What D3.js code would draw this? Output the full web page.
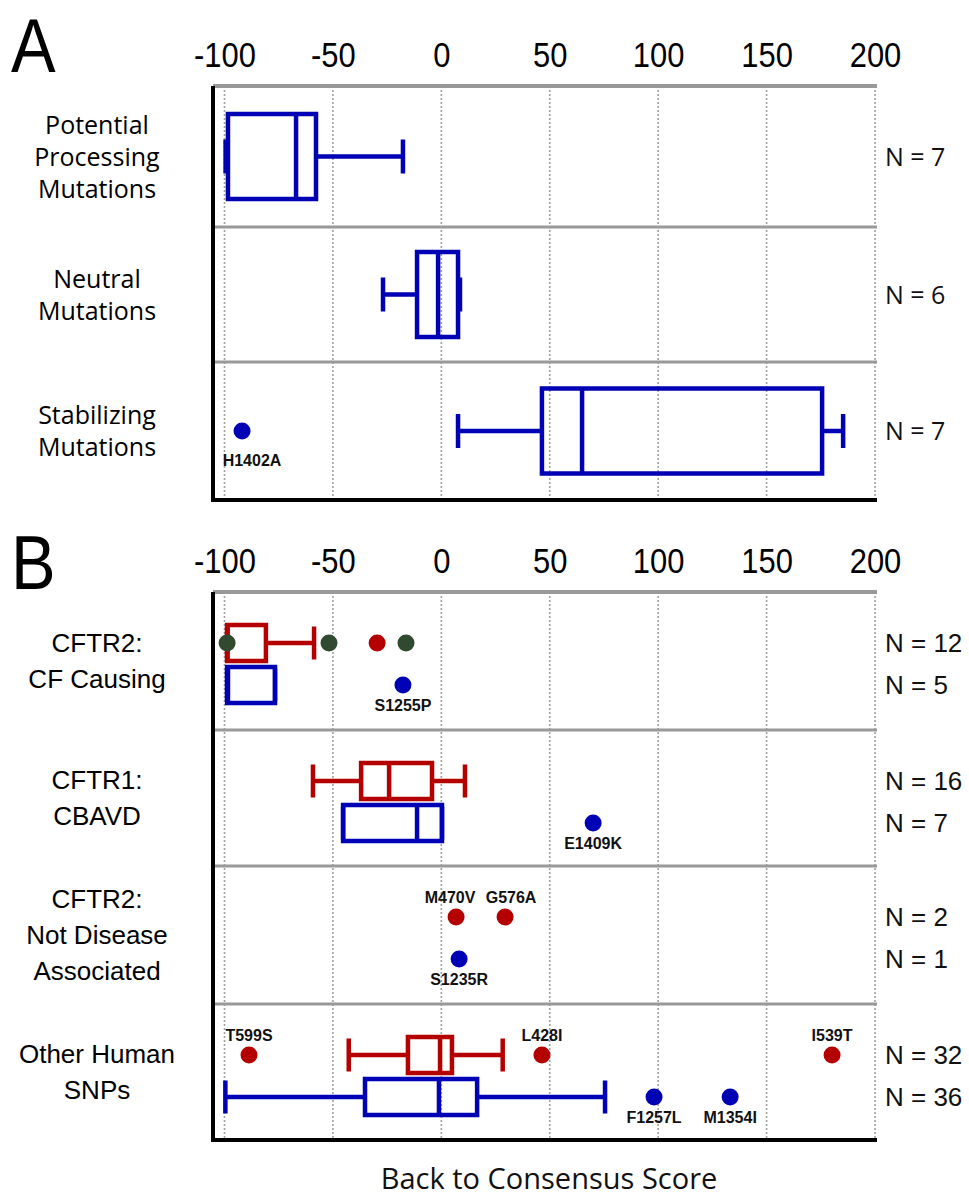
<!DOCTYPE html>
<html>
<head>
<meta charset="utf-8">
<script src="https://cdn.jsdelivr.net/npm/d3@7"></script>
<style>
  body { margin: 0; background: #fff; }
  svg { display: block; }
</style>
</head>
<body>
<div id="chart"></div>
<script>
// ---- data ----
const ticks = [-100, -50, 0, 50, 100, 150, 200];

// panel A
const rowsA = [["Potential", "Processing", "Mutations"], ["Neutral", "Mutations"], ["Stabilizing", "Mutations"]];
const countsA = [7, 6, 7];
const boxesA = [
    { min: -99.5, q1: -98.4, med: -67, q3: -57.8, max: -17.7 },
    { min: -26.9, q1: -11.2, med: -1.5, q3: 7.7, max: 8.6 },
    { min: 7.7, q1: 46.4, med: 64.9, q3: 175.6, max: 185.3 }
];
const pointsA = [{ row: 2, value: -91.9, label: "H1402A", side: "below" }];

// panel B
const rowsB = [["CFTR2:", "CF Causing"], ["CFTR1:", "CBAVD"], ["CFTR2:", "Not Disease", "Associated"], ["Other Human", "SNPs"]];
const countsRed = [12, 16, 2, 32];
const countsBlue = [5, 7, 1, 36];
const boxesRed = [
    { min: -98.8, q1: -98.8, med: -98.6, q3: -80.9, max: -58.7 },
    { min: -59.2, q1: -37.0, med: -24.1, q3: -4.3, max: 10.9 },
    null,
    { min: -42.7, q1: -15.4, med: -0.6, q3: 4.9, max: 28.3 }
];
const boxesBlue = [
    { min: -98.8, q1: -98.8, med: -98.4, q3: -76.7, max: -76.7 },
    { min: -45.3, q1: -45.3, med: -11.2, q3: 0.3, max: 0.3 },
    null,
    { min: -99.6, q1: -35.2, med: -1.1, q3: 16.5, max: 75.5 }
];
const pointsRed = [
    { row: 0, value: -29.6 },
    { row: 2, value: 6.8, label: "M470V", side: "above" },
    { row: 2, value: 29.4, label: "G576A", side: "above" },
    { row: 3, value: -88.7, label: "T599S", side: "above" },
    { row: 3, value: 46.4, label: "L428I", side: "above" },
    { row: 3, value: 180.2, label: "I539T", side: "above" }
];
const pointsGreen = [
    { row: 0, value: -98.8 },
    { row: 0, value: -51.8 },
    { row: 0, value: -16.3 }
];
const pointsBlue = [
    { row: 0, value: -17.7, label: "S1255P", side: "below" },
    { row: 1, value: 70.0, label: "E1409K", side: "below" },
    { row: 2, value: 8.2, label: "S1235R", side: "below" },
    { row: 3, value: 98.1, label: "F1257L", side: "below" },
    { row: 3, value: 133.2, label: "M1354I", side: "below" }
];

// ---- layout ----
const W = 969, H = 1202;
const BLUE = "#0000b4", RED = "#b40000", GREEN = "#2f4a2f";
const frameLeft = 213, frameRight = 877;
const boundsA = [86, 227, 362, 500];
const boundsB = [592, 730, 866, 1004, 1140];
const NARROW = "'Liberation Sans', Arial, sans-serif";

const x = d3.scaleLinear().domain([-100, 200]).range([224.5, 875]);

const svg = d3.select("#chart").append("svg")
    .attr("width", W)
    .attr("height", H);

function drawFrame(bounds, letter, letterY) {
    const g = svg.append("g");
    const top = bounds[0], bottom = bounds[bounds.length - 1];

    // dotted grid
    g.selectAll(".grid")
        .data(ticks)
        .join("line")
        .attr("x1", d => x(d)).attr("x2", d => x(d))
        .attr("y1", top).attr("y2", bottom)
        .attr("stroke", "#a0a0a0")
        .attr("stroke-width", 1.6)
        .attr("stroke-dasharray", "2,2");

    // axis labels on top (plain hyphen minus, condensed look)
    const axis = d3.axisTop(x).tickValues(ticks).tickSize(0).tickPadding(0).tickFormat(d => String(d));
    const ag = g.append("g")
        .attr("transform", `translate(0,${top - 19})`)
        .call(axis);
    ag.select(".domain").remove();
    ag.selectAll("text")
        .attr("font-family", NARROW)
        .attr("font-size", 36)
        .attr("transform", "scale(0.86,1)")
        .attr("fill", "#000");

    // gray row separators (top line thicker)
    g.selectAll(".sep")
        .data(bounds.slice(0, -1))
        .join("line")
        .attr("x1", frameLeft).attr("x2", frameRight)
        .attr("y1", d => d).attr("y2", d => d)
        .attr("stroke", "#999")
        .attr("stroke-width", (d, i) => i === 0 ? 4 : 3);

    // black L frame
    g.append("path")
        .attr("d", `M${frameLeft},${top}V${bottom}H${frameRight}`)
        .attr("fill", "none")
        .attr("stroke", "#000")
        .attr("stroke-width", 4);

    svg.append("text")
        .attr("transform", `translate(11,${letterY}) scale(0.88,1)`)
        .attr("font-family", NARROW)
        .attr("font-size", 76)
        .text(letter);
}

function drawBox(box, cy, h, capH, color) {
    const g = svg.append("g")
        .attr("fill", "none")
        .attr("stroke", color)
        .attr("stroke-width", 4.5);
    g.append("line").attr("x1", x(box.min)).attr("x2", x(box.q1)).attr("y1", cy).attr("y2", cy);
    g.append("line").attr("x1", x(box.q3)).attr("x2", x(box.max)).attr("y1", cy).attr("y2", cy);
    g.selectAll(".cap")
        .data([box.min, box.max])
        .join("line")
        .attr("x1", d => x(d)).attr("x2", d => x(d))
        .attr("y1", cy - capH / 2).attr("y2", cy + capH / 2);
    g.append("rect")
        .attr("x", x(box.q1)).attr("y", cy - h / 2)
        .attr("width", x(box.q3) - x(box.q1)).attr("height", h);
    g.append("line")
        .attr("x1", x(box.med)).attr("x2", x(box.med))
        .attr("y1", cy - h / 2).attr("y2", cy + h / 2);
}

function drawPoints(points, cyOf, color, belowGap) {
    svg.append("g").selectAll("circle")
        .data(points)
        .join("circle")
        .attr("cx", d => x(d.value))
        .attr("cy", d => cyOf(d.row))
        .attr("r", 8.5)
        .attr("fill", color);

    const labelled = points.filter(d => d.label);
    // crude collision: push apart labels on same row and side, keep inside frame
    const pos = labelled.map(d => ({ d, cx: x(d.value), w: d.label.length * 11 }));
    for (let i = 0; i < pos.length; i++) {
        for (let j = i + 1; j < pos.length; j++) {
            const a = pos[i], b = pos[j];
            if (a.d.row !== b.d.row || a.d.side !== b.d.side) continue;
            const overlap = (a.w + b.w) / 2 + 6 - Math.abs(a.cx - b.cx);
            if (overlap > 0) {
                const s = a.cx < b.cx ? 1 : -1;
                a.cx -= s * overlap / 2;
                b.cx += s * overlap / 2;
            }
        }
    }
    pos.forEach(p => { p.cx = Math.max(p.cx, frameLeft + 6 + p.w / 2); });

    svg.append("g").selectAll("text")
        .data(pos)
        .join("text")
        .attr("x", p => p.cx)
        .attr("y", p => cyOf(p.d.row) + (p.d.side === "above" ? -14 : belowGap))
        .attr("text-anchor", "middle")
        .attr("font-family", "'Liberation Sans', Arial, sans-serif")
        .attr("font-weight", "bold")
        .attr("font-size", 16)
        .attr("fill", "#111")
        .text(p => p.d.label);
}

function drawRowLabels(rows, bounds, lineH, family, size) {
    rows.forEach((lines, i) => {
        const cy = (bounds[i] + bounds[i + 1]) / 2;
        const t = svg.append("text")
            .attr("text-anchor", "middle")
            .attr("font-family", family)
            .attr("font-size", size)
            .attr("fill", "#000");
        lines.forEach((ln, k) => {
            t.append("tspan")
                .attr("x", 97)
                .attr("y", cy + (k - (lines.length - 1) / 2) * lineH + size * 0.36)
                .text(ln);
        });
    });
}

function drawCounts(values, cyOf, family, size) {
    svg.append("g").selectAll("text")
        .data(values)
        .join("text")
        .attr("x", 885)
        .attr("y", (d, i) => cyOf(i) + size * 0.36)
        .attr("font-family", family)
        .attr("font-size", size)
        .attr("fill", "#111")
        .text(d => `N = ${d}`);
}

// ---- panel A ----
drawFrame(boundsA, "A", 72);
const cyA = i => (boundsA[i] + boundsA[i + 1]) / 2;
boxesA.forEach((b, i) => drawBox(b, cyA(i), 85, 34, BLUE));
drawPoints(pointsA, cyA, BLUE, 35);
drawRowLabels(rowsA, boundsA, 32, "'Open Sans', sans-serif", 25);
drawCounts(countsA, cyA, "'Open Sans', sans-serif", 25);

// ---- panel B ----
drawFrame(boundsB, "B", 589);
const cyRed = i => boundsB[i] + 51;
const cyBlue = i => boundsB[i] + 93;
boxesRed.forEach((b, i) => { if (b) drawBox(b, cyRed(i), 36, 33, RED); });
boxesBlue.forEach((b, i) => { if (b) drawBox(b, cyBlue(i), 36, 33, BLUE); });
drawPoints(pointsGreen, cyRed, GREEN, 26);
drawPoints(pointsRed, cyRed, RED, 26);
drawPoints(pointsBlue, cyBlue, BLUE, 26);
drawRowLabels(rowsB, boundsB, 36, "'Liberation Sans', Arial, sans-serif", 26);
drawCounts(countsRed, cyRed, "'Liberation Sans', Arial, sans-serif", 26);
drawCounts(countsBlue, cyBlue, "'Liberation Sans', Arial, sans-serif", 26);

// axis title
svg.append("text")
    .attr("x", 549).attr("y", 1189)
    .attr("text-anchor", "middle")
    .attr("font-family", "'Open Sans', sans-serif")
    .attr("font-size", 29)
    .attr("fill", "#111")
    .text("Back to Consensus Score");
</script>
</body>
</html>
